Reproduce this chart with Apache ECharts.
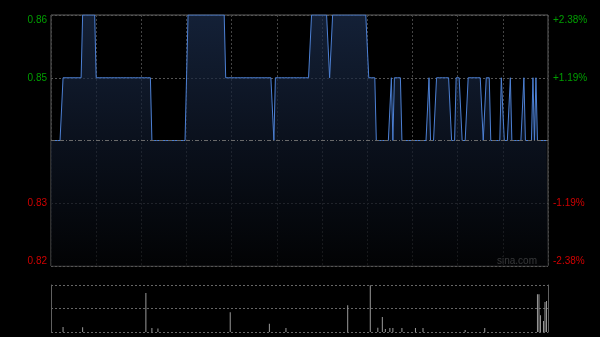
<!DOCTYPE html>
<html>
<head>
<meta charset="utf-8">
<script src="https://cdn.jsdelivr.net/npm/echarts@6/dist/echarts.min.js"></script>
<style>
html,body{margin:0;padding:0;background:#000;}
#c{width:600px;height:337px;}
</style>
</head>
<body>
<div id="c"></div>
<script>
// Price: step runs (minute index where a level starts, and the level)
const runStart = [0, 8, 21, 30, 67, 91, 116, 148, 149, 173, 185, 187, 211, 216, 226, 227, 228, 233, 251, 252, 256, 266, 269, 273, 277, 287, 289, 292, 299, 301, 305, 306, 314, 315, 320, 321, 322, 323];
const runPrice = [0.84, 0.85, 0.86, 0.85, 0.84, 0.86, 0.85, 0.84, 0.85, 0.86, 0.85, 0.86, 0.85, 0.84, 0.85, 0.84, 0.85, 0.84, 0.85, 0.84, 0.85, 0.84, 0.85, 0.84, 0.85, 0.84, 0.85, 0.84, 0.85, 0.84, 0.85, 0.84, 0.85, 0.84, 0.85, 0.84, 0.85, 0.84];
const lastMinute = 330;
const prevClose = 0.84;
const priceTicks = [0.82, 0.83, 0.84, 0.85, 0.86];

// Volume: minute index and volume (arbitrary units)
const volIdx = [8, 21, 63, 67, 71, 119, 145, 156, 197, 212, 217, 220, 222, 225, 227, 233, 242, 247, 275, 288, 323, 324, 325, 327, 328, 329];
const volVal = [50, 47, 390, 40, 35, 197, 83, 40, 267, 467, 43, 150, 30, 40, 40, 40, 40, 40, 20, 40, 377, 377, 167, 110, 300, 310];

const priceData = [];
for (let r = 0; r < runStart.length; r++) {
  const end = r + 1 < runStart.length ? runStart[r + 1] - 1 : lastMinute;
  for (let i = runStart[r]; i <= end; i++) priceData.push([i, runPrice[r]]);
}
const volData = volIdx.map((i, k) => [i, volVal[k]]);

const GREEN = '#009f00', RED = '#d00000';
const lblColor = v => (v > prevClose + 1e-9 ? GREEN : RED);
const isPrev = v => Math.abs(v - prevClose) < 1e-6;

const chart = echarts.init(document.getElementById('c'), null, {renderer: 'canvas'});
chart.setOption({
  backgroundColor: '#000',
  animation: false,
  grid: [
    {left: 51, top: 15, width: 497, height: 251, show: true, borderColor: '#606060', borderWidth: 1, backgroundColor: 'transparent'},
    {left: 51, top: 285, width: 497, height: 47, show: false}
  ],
  xAxis: [
    {type: 'value', gridIndex: 0, min: 0, max: lastMinute, interval: 30,
     axisLine: {show: false}, axisTick: {show: false}, axisLabel: {show: false},
     splitLine: {show: true, lineStyle: {color: '#444', type: [2, 2], width: 1}}},
    {type: 'value', gridIndex: 1, min: 0, max: lastMinute, interval: 30,
     axisLine: {show: false}, axisTick: {show: false}, axisLabel: {show: false},
     splitLine: {show: false}}
  ],
  yAxis: [
    {type: 'value', gridIndex: 0, min: priceTicks[0], max: priceTicks[4], interval: 0.01, position: 'left',
     axisLine: {show: false}, axisTick: {show: false},
     axisLabel: {margin: 4, fontSize: 10, fontFamily: 'Liberation Sans, Arial, sans-serif',
       color: v => lblColor(v),
       verticalAlignMaxLabel: 'top', verticalAlignMinLabel: 'bottom',
       formatter: v => isPrev(v) ? '' : v.toFixed(2)},
     splitLine: {show: true, lineStyle: {color: ['#555', '#555', 'rgba(0,0,0,0)', '#555', '#555'], type: [2, 2], width: 1}}},
    {type: 'value', gridIndex: 0, min: priceTicks[0], max: priceTicks[4], interval: 0.01, position: 'right',
     axisLine: {show: false}, axisTick: {show: false},
     axisLabel: {margin: 5, fontSize: 10, fontFamily: 'Liberation Sans, Arial, sans-serif',
       color: v => lblColor(v),
       verticalAlignMaxLabel: 'top', verticalAlignMinLabel: 'bottom',
       formatter: v => {
         if (isPrev(v)) return '';
         const p = (v - prevClose) / prevClose * 100;
         return (p > 0 ? '+' : '') + p.toFixed(2) + '%';
       }},
     splitLine: {show: false}},
    {type: 'value', gridIndex: 1, min: 0, max: 470, interval: 235, position: 'left',
     axisLine: {show: true, lineStyle: {color: '#606060'}}, axisTick: {show: false}, axisLabel: {show: false},
     splitLine: {show: true, lineStyle: {color: '#666', type: [2, 2], width: 1}}},
    {type: 'value', gridIndex: 1, min: 0, max: 470, interval: 235, position: 'right',
     axisLine: {show: true, lineStyle: {color: '#606060'}}, axisTick: {show: false}, axisLabel: {show: false},
     splitLine: {show: false}}
  ],
  series: [
    {type: 'line', xAxisIndex: 0, yAxisIndex: 0, data: priceData, symbol: 'none',
     lineStyle: {color: '#4d80d4', width: 1},
     areaStyle: {origin: 'start', color: new echarts.graphic.LinearGradient(0, 0, 0, 1, [
       {offset: 0, color: '#1c2e4e'}, {offset: 0.5, color: '#0f1829'}, {offset: 1, color: '#030406'}])},
     markLine: {silent: true, symbol: 'none', label: {show: false},
       lineStyle: {color: '#6a6a6a', type: [4, 2, 1, 2], width: 1},
       data: [{yAxis: prevClose}]}},
    {type: 'bar', xAxisIndex: 1, yAxisIndex: 2, data: volData, barWidth: 1,
     itemStyle: {color: '#9a9a9a'}}
  ],
  graphic: [
    {type: 'text', right: 63, top: 256, style: {text: 'sina.com', fill: '#a8a8a8', fontSize: 10, fontFamily: 'Liberation Sans, Arial, sans-serif'}}
  ]
});
</script>
</body>
</html>
